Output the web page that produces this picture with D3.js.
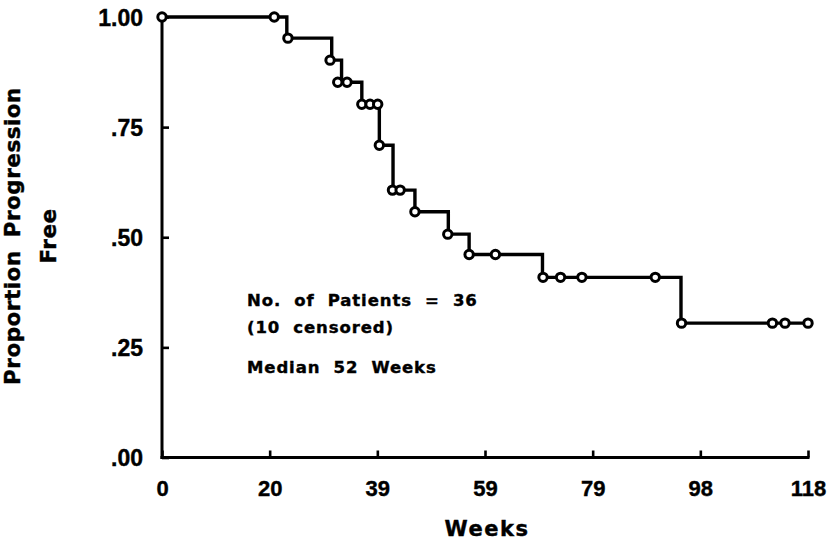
<!DOCTYPE html>
<html><head><meta charset="utf-8">
<script src="https://cdn.jsdelivr.net/npm/d3@7"></script>
<style>
body{margin:0;background:#fff;}
svg text{font-family:"Liberation Sans",Arial,sans-serif;font-weight:bold;fill:#000;stroke:#000;stroke-width:0.4px;}
svg text.wide{font-family:"DejaVu Sans",sans-serif;}
</style></head>
<body><svg id="c" width="834" height="544"></svg>
<script>
// Kaplan-Meier step curve: drop times (weeks) and survival after each drop
const stepTimes = [0, 22.8, 31.0, 32.8, 36.5, 39.7, 42.2, 46.2, 52.3, 56.1, 69.5, 94.8];
const stepValues = [1.00, 0.952, 0.902, 0.852, 0.802, 0.709, 0.607, 0.558, 0.507, 0.461, 0.409, 0.305];
const endTime = 118;
// circle markers
const markTimes = [0, 20.5, 23.0, 30.7, 32.1, 33.8, 36.5, 38.0, 39.4, 39.7, 42.1, 43.5, 46.2, 52.2, 56.1, 60.9, 69.6, 72.8, 76.7, 90.1, 94.9, 111.5, 113.8, 118];
const markValues = [1.00, 1.00, 0.952, 0.902, 0.852, 0.852, 0.802, 0.802, 0.802, 0.709, 0.607, 0.607, 0.558, 0.507, 0.461, 0.461, 0.409, 0.409, 0.409, 0.409, 0.305, 0.305, 0.305, 0.305];
const xTickLabels = ["0", "20", "39", "59", "79", "98", "118"];
const yTickValues = [0, 0.25, 0.5, 0.75, 1.0];
const yTickLabels = [".00", ".25", ".50", ".75", "1.00"];
const notes = ["No. of Patients = 36", "(10 censored)", "Median 52 Weeks"];

const svg = d3.select("#c");
const x = d3.scaleLinear().domain([0, 118]).range([162, 808]);
const y = d3.scaleLinear().domain([0, 1]).range([457.5, 17]);

const xTickVals = xTickLabels.map((d, i) => i * 118 / 6);

// axes
const xAxis = d3.axisBottom(x).tickValues(xTickVals).tickFormat((d, i) => xTickLabels[i]).tickSize(-7);
const gx = svg.append("g").attr("transform", "translate(0,457.5)").call(xAxis);
gx.select(".domain").attr("d", `M${x(0)-1.5},0H${x(118)+1.5}`).attr("stroke", "#000").attr("stroke-width", 3);
gx.selectAll(".tick line").attr("stroke", "#000").attr("stroke-width", 2.6);
gx.selectAll(".tick text").attr("font-size", 22).attr("dy", 0).attr("y", 38);

const yAxis = d3.axisLeft(y).tickValues(yTickValues).tickFormat((d, i) => yTickLabels[i]).tickSize(-7);
const gy = svg.append("g").attr("transform", "translate(162,0)").call(yAxis);
gy.select(".domain").attr("d", `M0,${y(0)+1.5}V${y(1)}`).attr("stroke", "#000").attr("stroke-width", 3);
gy.selectAll(".tick line").attr("stroke", "#000").attr("stroke-width", 2.6);
gy.selectAll(".tick text").attr("font-size", 23).attr("x", -19).attr("dy", "0.36em");

// step curve
const pts = stepTimes.map((t, i) => [t, stepValues[i]]);
pts.push([endTime, stepValues[stepValues.length - 1]]);
const line = d3.line().x(d => x(d[0])).y(d => y(d[1])).curve(d3.curveStepAfter);
svg.append("path").datum(pts).attr("d", line).attr("fill", "none").attr("stroke", "#000").attr("stroke-width", 3.4);

// markers
svg.append("g").selectAll("circle").data(markTimes.map((t, i) => [t, markValues[i]])).join("circle")
  .attr("cx", d => x(d[0])).attr("cy", d => y(d[1])).attr("r", 4.2)
  .attr("fill", "#fff").attr("stroke", "#000").attr("stroke-width", 3);

// axis titles
svg.append("text").attr("class", "wide").attr("x", 487).attr("y", 536).attr("text-anchor", "middle").attr("font-size", 21)
  .attr("letter-spacing", 1.5).text("Weeks");
svg.append("text").attr("class", "wide").attr("transform", "translate(20,236) rotate(-90)").attr("text-anchor", "middle").attr("font-size", 21.5)
  .attr("letter-spacing", 0.5).attr("word-spacing", 5).text("Proportion Progression");
svg.append("text").attr("class", "wide").attr("transform", "translate(56,236) rotate(-90)").attr("text-anchor", "middle").attr("font-size", 21.5)
  .attr("letter-spacing", 0.5).text("Free");

// annotation
const noteY = [306, 333, 373];
svg.append("g").selectAll("text").data(notes).join("text").attr("class", "wide")
  .attr("x", 247).attr("y", (d, i) => noteY[i]).attr("font-size", 16.5)
  .attr("letter-spacing", 0.9).attr("word-spacing", 6.5).text(d => d);
</script></body></html>
